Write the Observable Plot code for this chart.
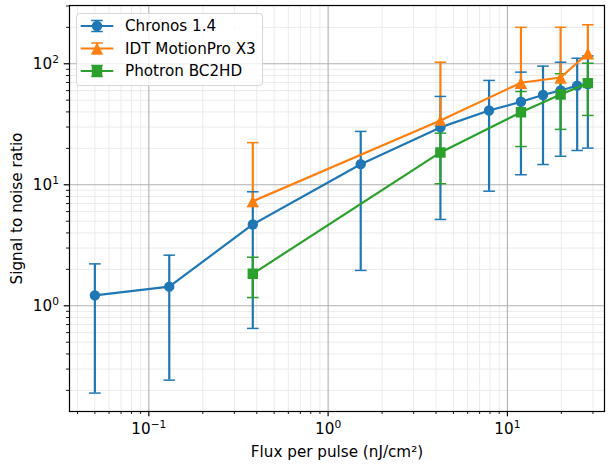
<!DOCTYPE html>
<html><head><meta charset="utf-8">
<script src="https://cdn.jsdelivr.net/npm/d3@7"></script>
<script src="https://cdn.jsdelivr.net/npm/@observablehq/plot@0.6"></script>
<style>
body{margin:0;background:#fff;}
#wrap{position:relative;width:608px;height:464px;font-family:"DejaVu Sans",sans-serif;}
#legend{position:absolute;left:0;top:0;}
</style></head><body><div id="wrap"></div>
<script>
const seriesNames = ["Chronos 1.4", "IDT MotionPro X3", "Photron BC2HD"];
const seriesColors = ["#1f77b4", "#ff7f0e", "#2ca02c"];

const chronosFlux = [0.05, 0.13, 0.38, 1.52, 4.23, 7.9, 11.9, 15.8, 19.8, 24.5, 28.1];
const chronosSNR  = [1.22, 1.44, 4.7, 14.8, 29.8, 41.1, 48.5, 55.2, 60.2, 66, 68];
const chronosLow  = [0.19, 0.243, 0.65, 1.96, 5.17, 8.85, 12.1, 14.7, 17.2, 19.2, 20.1];
const chronosHigh = [2.22, 2.62, 8.75, 27.6, 53.7, 72.8, 85.3, 95.6, 103, 111, 116];

const idtFlux = [0.38, 4.23, 11.9, 19.8, 28.1];
const idtSNR  = [7.3, 34, 69.7, 77, 122];
const idtLow  = [6.6, 30.7, 62.7, 69.3, 110];
const idtHigh = [22.3, 103, 200, 200, 210];

const photronFlux = [0.38, 4.23, 11.9, 19.8, 28.1];
const photronSNR  = [1.84, 18.5, 39.8, 55.7, 69.2];
const photronLow  = [1.17, 10.2, 20.7, 28.7, 37.4];
const photronHigh = [2.52, 26.7, 59, 82.7, 101];

const xMajorTicks = [0.1, 1, 10];
const xMinorTicks = [0.04, 0.05, 0.06, 0.07, 0.08, 0.09, 0.2, 0.3, 0.4, 0.5, 0.6, 0.7, 0.8, 0.9, 2, 3, 4, 5, 6, 7, 8, 9, 20, 30];
const yMajorTicks = [1, 10, 100];
const yMinorTicks = [0.2, 0.3, 0.4, 0.5, 0.6, 0.7, 0.8, 0.9, 2, 3, 4, 5, 6, 7, 8, 9, 20, 30, 40, 50, 60, 70, 80, 90, 200, 300];

const xLabel = "Flux per pulse (nJ/cm²)";
const yLabel = "Signal to noise ratio";

function build(name, flux, snr, lo, hi) {
  return flux.map((f, i) => ({series: name, flux: f, snr: snr[i], lo: lo[i], hi: hi[i]}));
}
const seriesData = [
  build(seriesNames[0], chronosFlux, chronosSNR, chronosLow, chronosHigh),
  build(seriesNames[1], idtFlux, idtSNR, idtLow, idtHigh),
  build(seriesNames[2], photronFlux, photronSNR, photronLow, photronHigh)
];
const allRows = seriesData.flat();
const capRows = allRows.flatMap(d => [{...d, cap: d.lo}, {...d, cap: d.hi}]);

const capSymbol = {draw(ctx, size) { const h = Math.sqrt(size / Math.PI); ctx.moveTo(-h, 0); ctx.lineTo(h, 0); }};
const triSymbol = {draw(ctx, size) { const h = Math.sqrt(size / Math.PI); ctx.moveTo(0, -h); ctx.lineTo(-h, h); ctx.lineTo(h, h); ctx.closePath(); }};
const sqSymbol = {draw(ctx, size) { const h = Math.sqrt(size / Math.PI); ctx.rect(-h, -h, 2 * h, 2 * h); }};
const markerSymbols = ["circle", triSymbol, sqSymbol];

const color = {domain: seriesNames, range: seriesColors};
const FS = 15.2;
const LW = 2.2;
const MR = 4.5;
const expFmt = d => { const e = Math.round(Math.log10(d)); return e < 0 ? "\u2212" + (-e) : String(e); };

const marks = [
  Plot.gridX(xMinorTicks, {stroke: "#ebebeb", strokeOpacity: 1, strokeWidth: 1}),
  Plot.gridY(yMinorTicks, {stroke: "#ebebeb", strokeOpacity: 1, strokeWidth: 1}),
  Plot.gridX(xMajorTicks, {stroke: "#b0b0b0", strokeOpacity: 1, strokeWidth: 1.1}),
  Plot.gridY(yMajorTicks, {stroke: "#b0b0b0", strokeOpacity: 1, strokeWidth: 1.1}),
  Plot.axisX({ticks: xMinorTicks, tickSize: 3, strokeWidth: 0.9, tickFormat: () => "", label: null}),
  Plot.axisY({ticks: yMinorTicks, tickSize: 3, strokeWidth: 0.9, tickFormat: () => "", label: null}),
  Plot.axisX({ticks: xMajorTicks, tickSize: 5.3, tickPadding: 6, strokeWidth: 1.2, tickFormat: expFmt, label: null, fontSize: FS, fill: "black"}),
  Plot.axisY({ticks: yMajorTicks, tickSize: 5.3, tickPadding: 5.3, strokeWidth: 1.2, tickFormat: expFmt, label: null, fontSize: FS, fill: "black"}),
  Plot.ruleX(allRows, {x: "flux", y1: "lo", y2: "hi", stroke: "series", strokeWidth: LW}),
  Plot.dot(capRows, {x: "flux", y: "cap", stroke: "series", symbol: capSymbol, r: 5.8, fill: "none", strokeWidth: 1.5})
];
seriesData.forEach((rows, i) => {
  marks.push(Plot.line(rows, {x: "flux", y: "snr", stroke: seriesColors[i], strokeWidth: LW}));
  marks.push(Plot.dot(rows, {x: "flux", y: "snr", symbol: markerSymbols[i], r: MR, fill: seriesColors[i], stroke: seriesColors[i], strokeWidth: 1.4}));
});
marks.push(Plot.frame({stroke: "black", strokeWidth: 1.2}));
marks.push(Plot.text([yLabel], {frameAnchor: "left", rotate: -90, dx: -52.7, textAnchor: "middle", lineAnchor: "middle", fontSize: FS, fill: "black"}));
marks.push(Plot.text([xLabel], {frameAnchor: "bottom", dy: 41, textAnchor: "middle", lineAnchor: "middle", fontSize: FS, fill: "black"}));

const chart = Plot.plot({
  width: 608, height: 464,
  marginLeft: 69, marginRight: 4, marginTop: 5, marginBottom: 53,
  style: {fontFamily: "'DejaVu Sans', sans-serif", fontSize: FS + "px", background: "white", color: "black"},
  x: {type: "log", domain: [0.0361, 34.8]},
  y: {type: "log", domain: [0.1338, 303]},
  color,
  marks
});
document.getElementById("wrap").appendChild(chart);

// tick labels as 10 with a superscript exponent
d3.select(chart).selectAll('g[aria-label="x-axis tick label"] text, g[aria-label="y-axis tick label"] text').each(function() {
  const t = d3.select(this);
  const e = t.text();
  if (!e) return;
  t.text("");
  t.append("tspan").text("10");
  t.append("tspan").attr("dy", "-6").attr("font-size", (FS * 0.7) + "px").text(e);
});

// legend inside the axes, upper left
const lg = d3.select("#wrap").append("svg").attr("id", "legend").attr("width", 608).attr("height", 464)
  .style("pointer-events", "none");
const g = lg.append("g").attr("transform", "translate(76,13)");
g.append("rect").attr("x", 0.5).attr("y", 0.5).attr("width", 186).attr("height", 72).attr("rx", 3)
  .attr("fill", "white").attr("fill-opacity", 0.8).attr("stroke", "#d6d6d6").attr("stroke-width", 1);
const rowY = [13, 35.5, 58];
seriesNames.forEach((name, i) => {
  const y = rowY[i], c = seriesColors[i], cx = 21;
  const row = g.append("g").attr("transform", `translate(0,${y})`);
  row.append("line").attr("x1", 4.7).attr("x2", 37.3).attr("stroke", c).attr("stroke-width", LW);
  row.append("line").attr("x1", cx).attr("x2", cx).attr("y1", -5.5).attr("y2", 5.5).attr("stroke", c).attr("stroke-width", LW);
  [-5.5, 5.5].forEach(yy => row.append("line").attr("x1", cx - 5.8).attr("x2", cx + 5.8).attr("y1", yy).attr("y2", yy).attr("stroke", c).attr("stroke-width", 1.5));
  const sym = d3.symbol().type(typeof markerSymbols[i] === "string" ? d3.symbolCircle : markerSymbols[i]).size(Math.PI * MR * MR);
  row.append("path").attr("transform", `translate(${cx},0)`).attr("d", sym()).attr("fill", c).attr("stroke", c).attr("stroke-width", 1.4);
  row.append("text").attr("x", 49).attr("y", 0).attr("dy", "0.35em").attr("font-size", FS + "px").attr("font-family", "'DejaVu Sans', sans-serif").attr("fill", "black").text(name);
});
</script></body></html>
